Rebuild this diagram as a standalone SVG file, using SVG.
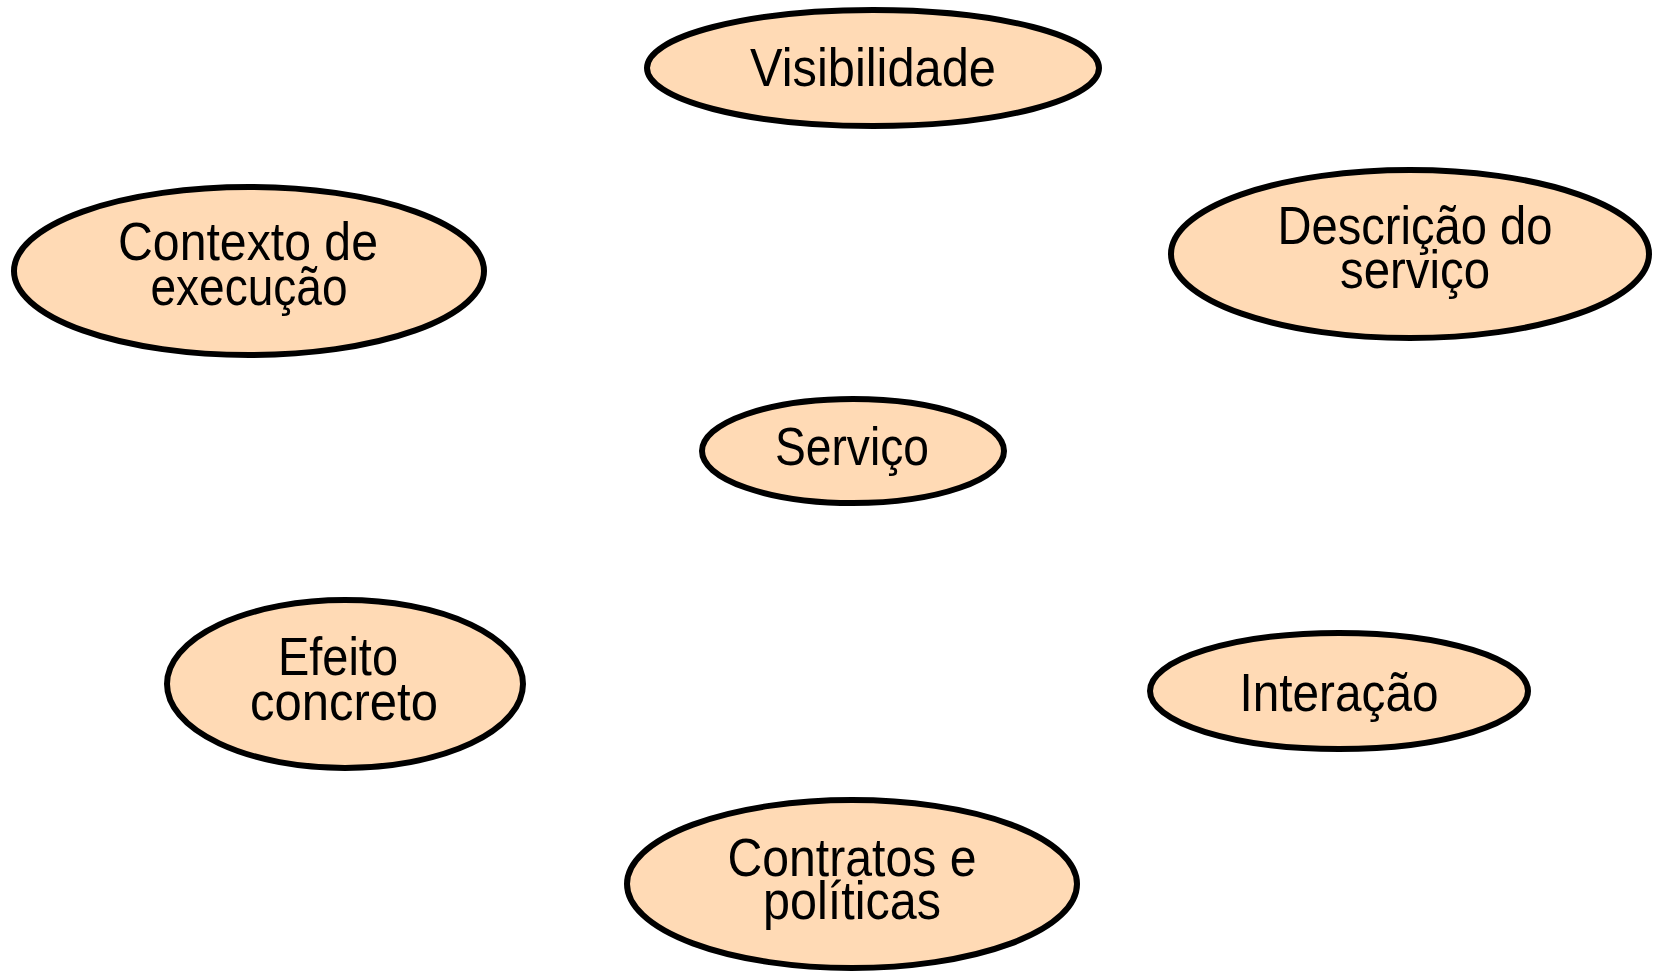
<svg xmlns="http://www.w3.org/2000/svg" width="1653" height="971" viewBox="0 0 1653 971">
<style>
.n{fill:#FFDAB5;stroke:#000;stroke-width:6}
.t{font-family:"Liberation Sans",Arial,sans-serif;font-size:54px;fill:#000;text-anchor:middle}
</style>
<rect width="1653" height="971" fill="#fff"/>
<g id="connectors"/>
<g id="visibilidade"><ellipse class="n" cx="873" cy="68" rx="226" ry="58"/><text class="t" x="873" y="86" textLength="246" lengthAdjust="spacingAndGlyphs">Visibilidade</text></g>
<g id="contexto"><ellipse class="n" cx="249" cy="271" rx="235" ry="84"/><text class="t" x="248" y="260" textLength="260" lengthAdjust="spacingAndGlyphs">Contexto de</text><text class="t" x="249" y="305" textLength="197" lengthAdjust="spacingAndGlyphs">execução</text></g>
<g id="descricao"><ellipse class="n" cx="1410" cy="254" rx="239" ry="84"/><text class="t" x="1415" y="244" textLength="275" lengthAdjust="spacingAndGlyphs">Descrição do</text><text class="t" x="1415" y="288" textLength="150" lengthAdjust="spacingAndGlyphs">serviço</text></g>
<g id="servico"><ellipse class="n" cx="853" cy="451" rx="151" ry="52"/><text class="t" x="852" y="465" textLength="154" lengthAdjust="spacingAndGlyphs">Serviço</text></g>
<g id="efeito"><ellipse class="n" cx="345" cy="684" rx="178" ry="84"/><text class="t" x="338" y="675" textLength="120" lengthAdjust="spacingAndGlyphs">Efeito</text><text class="t" x="344" y="720" textLength="188" lengthAdjust="spacingAndGlyphs">concreto</text></g>
<g id="interacao"><ellipse class="n" cx="1339" cy="691" rx="189" ry="58"/><text class="t" x="1339" y="711" textLength="199" lengthAdjust="spacingAndGlyphs">Interação</text></g>
<g id="contratos"><ellipse class="n" cx="852" cy="884" rx="225" ry="84"/><text class="t" x="852" y="876" textLength="249" lengthAdjust="spacingAndGlyphs">Contratos e</text><text class="t" x="852" y="919" textLength="178" lengthAdjust="spacingAndGlyphs">políticas</text></g>
</svg>
